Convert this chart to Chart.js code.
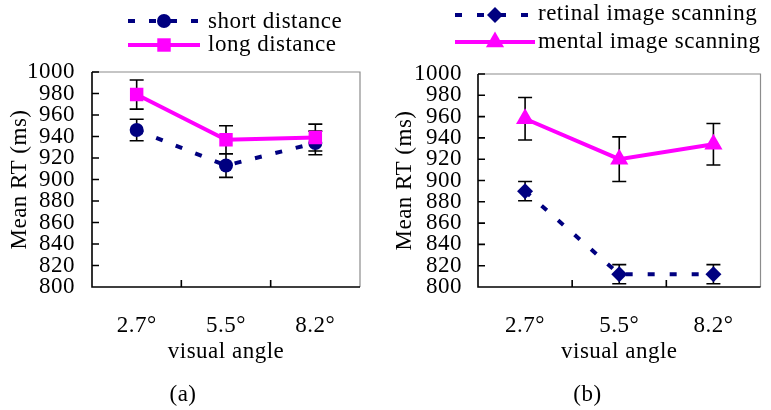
<!DOCTYPE html>
<html>
<head>
<meta charset="utf-8">
<script src="https://cdn.jsdelivr.net/npm/chart.js@4.4.0/dist/chart.umd.min.js"></script>
<style>
  body { margin: 0; background: #fff; }
  #wrap { position: relative; width: 771px; height: 410px; }
  canvas { position: absolute; top: 0; }
</style>
</head>
<body>
<div id="wrap">
  <canvas id="chartA" width="385" height="410" style="left:0"></canvas>
  <canvas id="chartB" width="386" height="410" style="left:385px"></canvas>
</div>
<script>
const angles = ["2.7°", "5.5°", "8.2°"]

// panel (a)
const shortDistance = [946, 913, 934]
const shortDistanceErr = [10, 11, 11]
const longDistance = [979, 937, 939]
const longDistanceErr = [13.5, 13, 12.5]

// panel (b)
const retinalScanning = [890, 812, 812]
const retinalScanningErr = [9, 9, 9]
const mentalScanning = [958, 920, 934]
const mentalScanningErr = [20, 21, 19.5]

const yTicks = [800, 820, 840, 860, 880, 900, 920, 940, 960, 980, 1000]

const NAVY = "#000080"
const MAGENTA = "#ff00ff"
const FONT = "'Liberation Serif', 'Times New Roman', serif"
const FONT_SIZE = 23
const CAPTION_TOP = 410 - (FONT_SIZE * 1.2 + 11) // top of the (a)/(b) caption box

Chart.defaults.font.family = FONT
Chart.defaults.font.size = FONT_SIZE
Chart.defaults.color = "#000"

// the source figure's text is set a little loose
const spacingPlugin = {
  id: "spacing",
  beforeDraw(chart) {
    chart.ctx.letterSpacing = "0.5px"
  },
}

// error bars, drawn under the lines
const errorBarsPlugin = {
  id: "errorBars",
  beforeDatasetsDraw(chart) {
    const { ctx, scales: { x, y } } = chart
    ctx.save()
    ctx.strokeStyle = "#000"
    ctx.lineWidth = 1.6
    chart.data.datasets.forEach((ds) => {
      ds.errors.forEach((e, j) => {
        const px = x.getPixelForValue(j)
        const top = y.getPixelForValue(ds.data[j] + e)
        const bot = y.getPixelForValue(ds.data[j] - e)
        ctx.beginPath()
        ctx.moveTo(px, top)
        ctx.lineTo(px, bot)
        ctx.moveTo(px - 7, top)
        ctx.lineTo(px + 7, top)
        ctx.moveTo(px - 7, bot)
        ctx.lineTo(px + 7, bot)
        ctx.stroke()
      })
    })
    ctx.restore()
  },
}

// plot frame: black axes, grey top/right, inward ticks
const framePlugin = {
  id: "frame",
  beforeDatasetsDraw(chart) {
    const { ctx, chartArea: { left, right, top, bottom }, scales: { x, y } } = chart
    ctx.save()
    ctx.strokeStyle = "#8c8c8c"
    ctx.lineWidth = 1.2
    ctx.beginPath()
    ctx.moveTo(left, top)
    ctx.lineTo(right, top)
    ctx.lineTo(right, bottom)
    ctx.stroke()

    ctx.strokeStyle = "#000"
    ctx.lineWidth = 1.6
    ctx.beginPath()
    ctx.moveTo(left, top)
    ctx.lineTo(left, bottom)
    ctx.lineTo(right, bottom)
    y.ticks.forEach((t) => {
      const py = y.getPixelForValue(t.value)
      ctx.moveTo(left, py)
      ctx.lineTo(left + 7, py)
    })
    for (let i = 1; i < angles.length; i++) {
      const px = (x.getPixelForValue(i - 1) + x.getPixelForValue(i)) / 2
      ctx.moveTo(px, bottom)
      ctx.lineTo(px, bottom - 7)
    }
    ctx.stroke()
    ctx.restore()
  },
}

// legend with line + marker sample, as in the source figure
const lineLegendPlugin = {
  id: "lineLegend",
  afterDraw(chart, args, opts) {
    const { ctx } = chart
    ctx.save()
    chart.data.datasets.forEach((ds, i) => {
      const row = opts.rows[i]
      ctx.strokeStyle = ds.borderColor
      ctx.lineWidth = ds.borderWidth
      ctx.setLineDash(ds.borderDash || [])
      ctx.beginPath()
      ctx.moveTo(opts.x0, row.line)
      ctx.lineTo(opts.x1, row.line)
      ctx.stroke()
      ctx.setLineDash([])
      ctx.fillStyle = ds.pointBackgroundColor
      Chart.helpers.drawPoint(ctx, {
        pointStyle: ds.pointStyle,
        radius: ds.pointRadius,
        rotation: 0,
        borderWidth: 0,
      }, (opts.x0 + opts.x1) / 2, row.line)
      ctx.fillStyle = "#000"
      ctx.font = FONT_SIZE + "px " + FONT
      ctx.textBaseline = "alphabetic"
      ctx.textAlign = "left"
      ctx.fillText(ds.label, opts.textX, row.text)
    })
    ctx.restore()
  },
}

function makePanel(id, datasets, cfg) {
  return new Chart(document.getElementById(id), {
    type: "line",
    data: { labels: angles, datasets: datasets },
    options: {
      responsive: false,
      animation: false,
      layout: { padding: { left: cfg.left, top: cfg.top, right: cfg.right, bottom: 0 } },
      plugins: {
        legend: { display: false },
        tooltip: { enabled: false },
        title: {
          display: true,
          position: "bottom",
          text: cfg.caption,
          font: { size: FONT_SIZE, weight: "normal" },
          padding: { top: 10, bottom: 1 },
        },
        lineLegend: cfg.legend,
      },
      scales: {
        x: {
          type: "category",
          offset: true,
          grid: { display: false },
          border: { display: false },
          ticks: { padding: 17, maxRotation: 0 },
          title: { display: true, text: "visual angle", padding: { top: 0, bottom: 5.5 } },
          afterFit: (s) => { s.height = CAPTION_TOP - cfg.bottom },
        },
        y: {
          min: 800,
          max: 1000,
          afterBuildTicks: (s) => { s.ticks = yTicks.map((v) => ({ value: v })) },
          grid: { display: false },
          border: { display: false },
          ticks: { padding: cfg.tickPad, autoSkip: false, callback: (v) => String(v) },
          title: { display: true, text: "Mean RT (ms)", padding: { top: 6 - cfg.left, bottom: 0 } },
          afterFit: (s) => { s.width = cfg.plotLeft - cfg.left },
        },
      },
    },
    plugins: [spacingPlugin, framePlugin, errorBarsPlugin, lineLegendPlugin],
  })
}

makePanel("chartA", [
  {
    label: "short distance",
    data: shortDistance,
    errors: shortDistanceErr,
    borderColor: NAVY,
    borderWidth: 4,
    borderDash: [7, 14],
    pointStyle: "circle",
    pointRadius: 7,
    pointBackgroundColor: NAVY,
    pointBorderWidth: 0,
    order: 2,
  },
  {
    label: "long distance",
    data: longDistance,
    errors: longDistanceErr,
    borderColor: MAGENTA,
    borderWidth: 4,
    pointStyle: "rect",
    pointRadius: 9.5,
    pointBackgroundColor: MAGENTA,
    pointBorderWidth: 0,
    order: 1,
  },
], {
  left: 6, top: 72, right: 25, bottom: 287, plotLeft: 92, tickPad: 9, caption: "(a)",
  legend: { x0: 128, x1: 200, textX: 208, rows: [{ line: 21, text: 28 }, { line: 45, text: 51 }] },
})

makePanel("chartB", [
  {
    label: "retinal image scanning",
    data: retinalScanning,
    errors: retinalScanningErr,
    borderColor: NAVY,
    borderWidth: 4,
    borderDash: [7, 15],
    pointStyle: "rectRot",
    pointRadius: 8,
    pointBackgroundColor: NAVY,
    pointBorderWidth: 0,
    order: 2,
  },
  {
    label: "mental image scanning",
    data: mentalScanning,
    errors: mentalScanningErr,
    borderColor: MAGENTA,
    borderWidth: 4,
    pointStyle: "triangle",
    pointRadius: 10.5,
    pointBackgroundColor: MAGENTA,
    pointBorderWidth: 0,
    order: 1,
  },
], {
  left: 20, top: 74, right: 1, bottom: 287, plotLeft: 93, tickPad: 8, caption: "(b)",
  legend: { x0: 70, x1: 150, textX: 153, rows: [{ line: 15, text: 20 }, { line: 42, text: 48 }] },
})
</script>
</body>
</html>
